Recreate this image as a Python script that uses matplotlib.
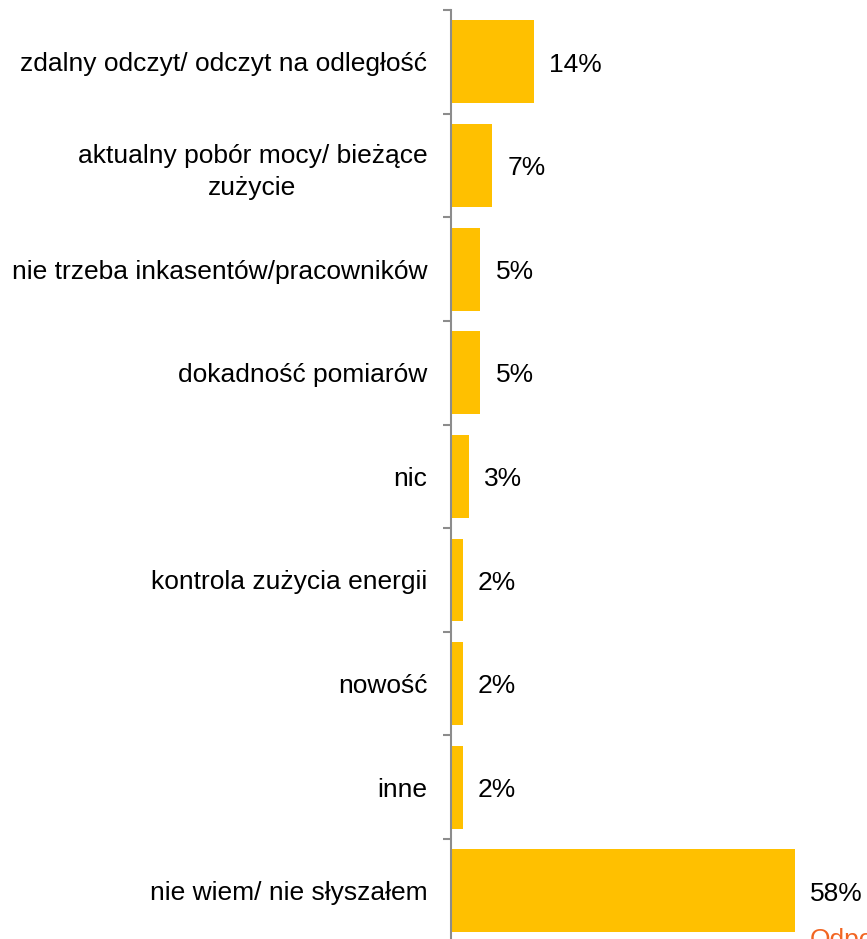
import matplotlib.pyplot as plt

plt.rcParams['font.family'] = ['Liberation Sans', 'DejaVu Sans']

categories = [
    "zdalny odczyt/ odczyt na odległość",
    "aktualny pobór mocy/ bieżące\nzużycie",
    "nie trzeba inkasentów/pracowników",
    "dokadność pomiarów",
    "nic",
    "kontrola zużycia energii",
    "nowość",
    "inne",
    "nie wiem/ nie słyszałem",
]
values = [14, 7, 5, 5, 3, 2, 2, 2, 58]
value_labels = ["14%", "7%", "5%", "5%", "3%", "2%", "2%", "2%", "58%"]

fig = plt.figure(figsize=(8.67, 9.39), dpi=100)
ax = fig.add_axes([0.520, -0.004, 0.480, 0.9934])

pos = list(range(len(categories)))
ax.barh(pos, values, height=0.8, color="#FFC000")
ax.set_ylim(len(categories) - 0.5, -0.5)
ax.set_xlim(0, 70.2)

for p, v, lab in zip(pos, values, value_labels):
    ax.annotate(lab, (v, p), xytext=(11, -2), textcoords="offset points",
                ha="left", va="center", fontsize=19, color="black")

ax.set_yticks(pos)
ax.set_yticklabels(categories, fontsize=19, multialignment="center",
                   linespacing=1.4)
ax.tick_params(axis="y", which="major", length=0, pad=17)
ax.set_yticks([p - 0.5 for p in pos] + [len(pos) - 0.5], minor=True)
ax.tick_params(axis="y", which="minor", length=6, width=1.5, color="#8C8C8C")

ax.set_xticks([])
for s in ["top", "right", "bottom"]:
    ax.spines[s].set_visible(False)
ax.spines["left"].set_color("#8C8C8C")
ax.spines["left"].set_linewidth(1.5)

# footnote runs off the right edge of the figure
fig.text(810 / 867, -0.014, "Odpowiedzi", fontsize=19, color="#F26522",
         ha="left", va="bottom")

fig.savefig("out.png", dpi=100)
